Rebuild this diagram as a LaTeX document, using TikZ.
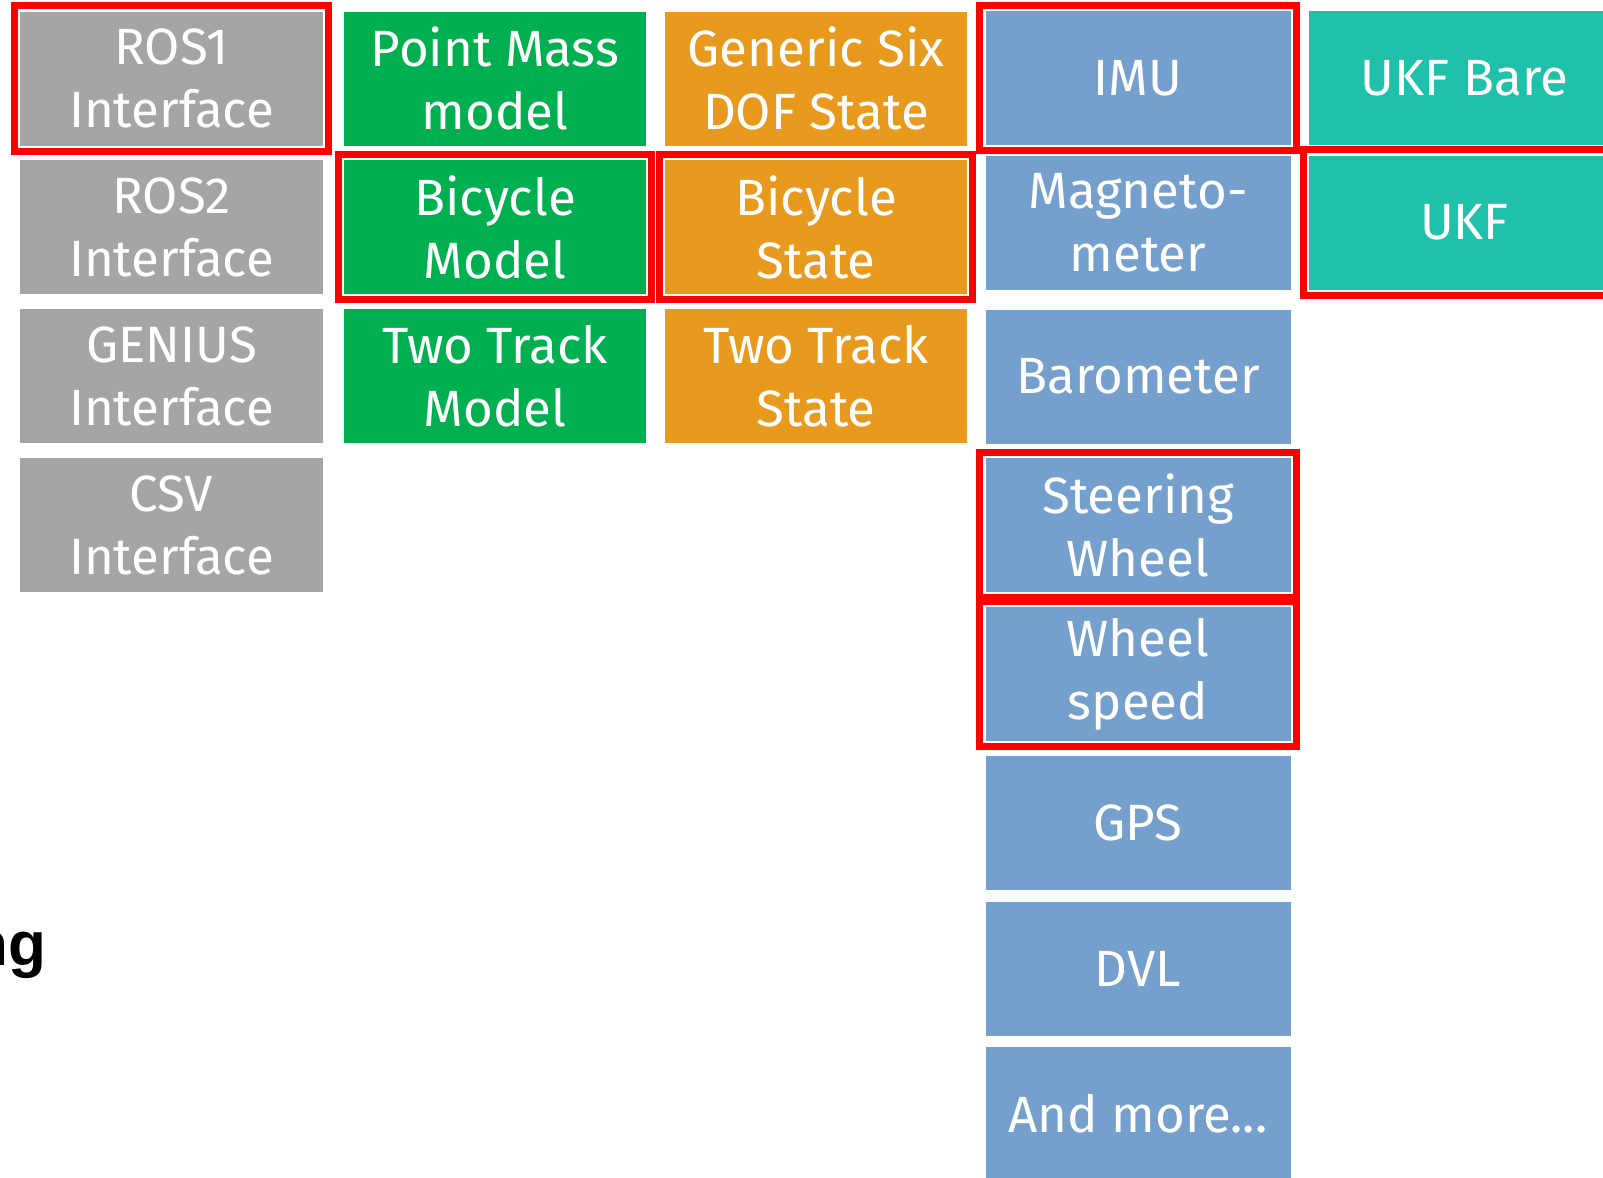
\documentclass[tikz,border=0pt]{standalone}
\usepackage{fontspec}
\setmainfont{Fira Sans}
\newfontfamily\ngfont{Liberation Sans}
\usetikzlibrary{fit}
\definecolor{cgray}{RGB}{165,165,165}
\definecolor{cgreen}{RGB}{0,176,80}
\definecolor{corange}{RGB}{232,154,30}
\definecolor{cblue}{RGB}{117,160,205}
\definecolor{cteal}{RGB}{31,193,170}
\definecolor{cred}{RGB}{255,0,0}
\tikzset{
  blk/.style={rectangle, inner sep=0pt, draw=none, text=white, align=center,
    font=\fontsize{25.5pt}{31.5pt}\selectfont},
  gbox/.style={blk, fill=cgray, minimum width=151.5pt, minimum height=67pt},
  grbox/.style={blk, fill=cgreen, minimum width=151pt, minimum height=67pt},
  obox/.style={blk, fill=corange, minimum width=151pt, minimum height=67pt},
  bbox/.style={blk, fill=cblue, minimum width=152.5pt, minimum height=67pt},
  tbox/.style={blk, fill=cteal, minimum width=155.5pt, minimum height=67pt},
  redframe/.style={rectangle, draw=cred, line width=3.5pt, inner sep=2.75pt, fill=none},
}
\begin{document}
\begin{tikzpicture}[x=0.5pt,y=-0.5pt]
\useasboundingbox (0,0) rectangle (1603,1178);
\fill[white] (0,0) rectangle (1603,1178);
% column 1: interfaces
\node[gbox] (ros1) at (171.5,78.5) {ROS1\\Interface};
\node[gbox] (ros2) at (171.5,227) {ROS2\\Interface};
\node[gbox] (genius) at (171.5,376) {GENIUS\\Interface};
\node[gbox] (csv) at (171.5,525) {CSV\\Interface};
% column 2: models
\node[grbox] (pm) at (495,78.5) {Point Mass\\model};
\node[grbox] (bm) at (495,227) {Bicycle\\Model};
\node[grbox] (ttm) at (495,376) {Two Track\\Model};
% column 3: states
\node[obox] (gs) at (816,78.5) {Generic Six\\DOF State};
\node[obox] (bs) at (816,227) {Bicycle\\State};
\node[obox] (tts) at (816,376) {Two Track\\State};
% column 4: sensors
\node[bbox] (imu) at (1138,78) {IMU};
\node[bbox] (mag) at (1138,222.5) {Magneto-\\meter};
\node[bbox] (baro) at (1138,376.5) {Barometer};
\node[bbox] (steer) at (1138,525) {Steering\\Wheel};
\node[bbox] (ws) at (1138,674) {Wheel\\speed};
\node[bbox] (gps) at (1138,822.5) {GPS};
\node[bbox] (dvl) at (1138,969) {DVL};
\node[bbox] (more) at (1138,1114) {And more...};
% column 5: filters
\node[tbox] (ukfb) at (1464.5,78) {UKF Bare};
\node[tbox] (ukf) at (1464.5,222.5) {UKF};
% highlight frames
\node[redframe, fit=(ros1)] (fros1) {};
\node[redframe, fit=(bm)] (fbm) {};
\node[redframe, fit=(bs)] (fbs) {};
\node[redframe, fit=(imu)] (fimu) {};
\node[redframe, fit=(steer)] (fsteer) {};
\node[redframe, fit=(ws)] (fws) {};
\node[redframe, fit=(ukf)] (fukf) {};
% cut-off title fragment
\node[anchor=base east, inner sep=0pt, font=\ngfont\bfseries\fontsize{31pt}{37pt}\selectfont] (ng) at (47,965) {ng};
\end{tikzpicture}
\end{document}
